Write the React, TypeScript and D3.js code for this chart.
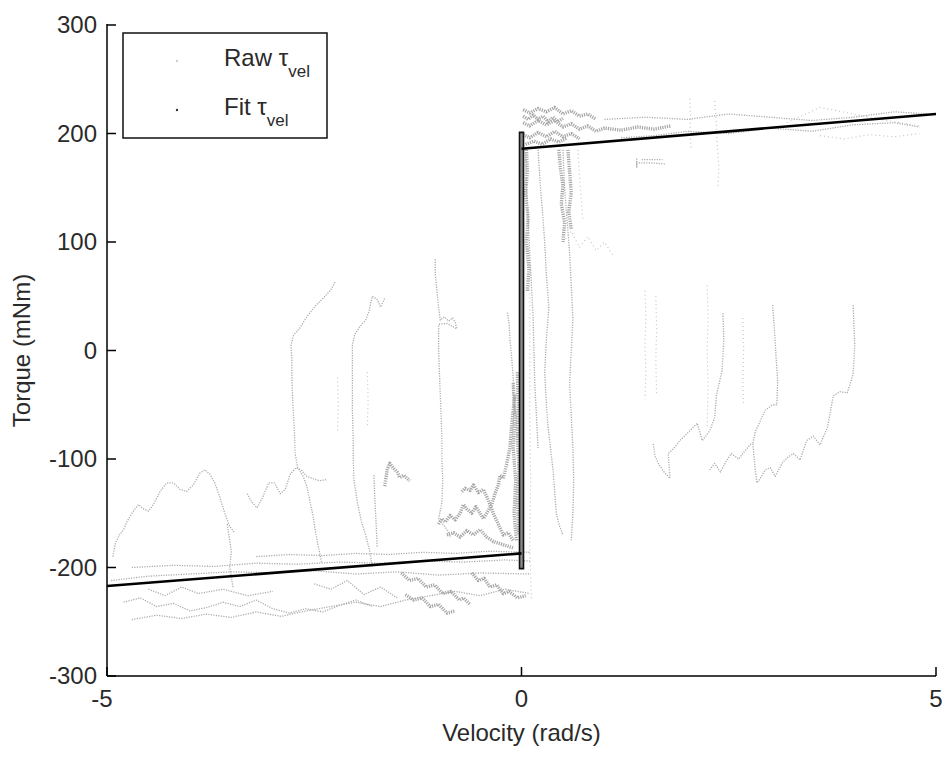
import React from "react";
import * as d3 from "d3";

type Pt = [number, number];

// Axis domains and tick labels
const xTicks = [-5, 0, 5];
const yTicks = [-300, -200, -100, 0, 100, 200, 300];

// Fitted friction model: negative branch, stiction step at zero, positive branch
const fitNeg: Pt[] = [[-5, -217], [0, -187]];
const fitPos: Pt[] = [[0, 186], [5, 218]];
const fitStep: Pt[] = [[-0.024, -201], [-0.024, 201], [0.024, 201], [0.024, -201]];

// Raw torque / velocity recordings (negative velocity side)
const rawLeftWave1: Pt[] = [[-4.93, -190], [-4.9, -178], [-4.85, -170], [-4.8, -165], [-4.76, -158], [-4.7, -150], [-4.62, -142], [-4.56, -146], [-4.5, -148], [-4.44, -142], [-4.36, -130], [-4.28, -122], [-4.2, -122], [-4.12, -128], [-4.04, -130], [-3.96, -124], [-3.88, -113], [-3.82, -110], [-3.76, -114], [-3.7, -122], [-3.64, -135], [-3.58, -150], [-3.52, -162], [-3.46, -168]];
const rawLeftWave2: Pt[] = [[-3.31, -132], [-3.25, -140], [-3.19, -145], [-3.12, -135], [-3.05, -122], [-2.98, -122], [-2.91, -132], [-2.85, -128], [-2.79, -114], [-2.72, -108], [-2.66, -110], [-2.59, -116], [-2.52, -118], [-2.44, -120], [-2.35, -119]];
const rawLeftRise1: Pt[] = [[-2.25, 63], [-2.3, 56], [-2.37, 50], [-2.45, 44], [-2.52, 38], [-2.6, 30], [-2.67, 21], [-2.75, 14], [-2.78, 5], [-2.77, -10], [-2.77, -25], [-2.76, -45], [-2.75, -60], [-2.74, -72], [-2.73, -95], [-2.7, -108], [-2.64, -115], [-2.59, -125], [-2.55, -140], [-2.52, -150], [-2.49, -165], [-2.45, -181], [-2.41, -196]];
const rawLeftRise2: Pt[] = [[-1.65, 48], [-1.7, 40], [-1.74, 47], [-1.8, 50], [-1.84, 36], [-1.88, 28], [-1.95, 22], [-2.01, 15], [-2.04, 5], [-2.04, -10], [-2.04, -30], [-2.04, -55], [-2.03, -80], [-2.03, -100], [-2.02, -120], [-1.98, -140], [-1.93, -158], [-1.88, -170], [-1.83, -185], [-1.8, -200]];
const rawLeftRise2b: Pt[] = [[-1.78, -115], [-1.77, -135], [-1.76, -150], [-1.75, -165], [-1.74, -182]];
const rawLeftBlob: Pt[] = [[-1.65, -125], [-1.62, -110], [-1.59, -104], [-1.55, -108], [-1.5, -112], [-1.47, -117], [-1.42, -115], [-1.35, -120]];
const rawLeftRise3: Pt[] = [[-1.04, 84], [-1.04, 70], [-1.02, 55], [-1.0, 40], [-0.98, 28], [-0.93, 31], [-0.88, 27], [-0.83, 30], [-0.8, 26], [-0.78, 20], [-0.9, 25], [-1.0, 24], [-1.0, 0], [-0.99, -20], [-0.98, -40], [-0.97, -60], [-0.96, -80], [-0.96, -100], [-0.95, -120], [-0.96, -140], [-1.0, -155], [-0.95, -160], [-0.9, -165], [-0.86, -172]];
const rawCenterLow1: Pt[] = [[-1.0, -160], [-0.96, -155], [-0.92, -158], [-0.86, -152], [-0.8, -156], [-0.74, -150], [-0.7, -142], [-0.66, -146], [-0.6, -150], [-0.55, -144], [-0.5, -150], [-0.46, -155], [-0.42, -150], [-0.36, -142], [-0.32, -132], [-0.28, -124], [-0.26, -115], [-0.22, -118], [-0.18, -105], [-0.14, -90], [-0.12, -70], [-0.1, -55], [-0.08, -40]];
const rawCenterLow2: Pt[] = [[-0.72, -130], [-0.68, -127], [-0.62, -129], [-0.58, -124], [-0.52, -131], [-0.46, -128], [-0.4, -138], [-0.34, -150], [-0.28, -160], [-0.22, -170], [-0.16, -168], [-0.1, -175]];
const rawCenterLow3: Pt[] = [[-0.9, -170], [-0.82, -168], [-0.74, -172], [-0.66, -166], [-0.58, -170], [-0.5, -165], [-0.42, -172], [-0.34, -176], [-0.26, -178], [-0.18, -180], [-0.1, -182]];
const rawNearZero1: Pt[] = [[-0.17, 35], [-0.15, 25], [-0.14, 10], [-0.12, -5], [-0.1, -25], [-0.1, -40], [-0.07, -60], [-0.05, -80]];
const rawNearZero2: Pt[] = [[-0.1, -30], [-0.08, -60], [-0.1, -90], [-0.07, -120], [-0.09, -150], [-0.06, -175]];
const rawNearZero3: Pt[] = [[-0.05, -20], [-0.04, -50], [-0.05, -80], [-0.03, -110], [-0.05, -140], [-0.03, -170]];
const rawLeftSparse1: Pt[] = [[-2.22, -25], [-2.21, -50], [-2.22, -75]];
const rawLeftSparse2: Pt[] = [[-1.86, -20], [-1.85, -45], [-1.86, -70]];

// Lower band along the negative branch
const rawBandL1: Pt[] = [[-3.2, -190], [-2.8, -188], [-2.4, -189], [-2.0, -187], [-1.6, -188], [-1.2, -186], [-0.8, -187], [-0.4, -185], [0.1, -186]];
const rawBandL2: Pt[] = [[-4.7, -200], [-4.2, -198], [-3.7, -199], [-3.2, -196], [-2.7, -197], [-2.2, -195], [-1.7, -196], [-1.2, -194], [-0.7, -195], [-0.2, -193], [0.1, -194]];
const rawBandL3: Pt[] = [[-4.95, -212], [-4.5, -208], [-4.0, -206], [-3.5, -204], [-3.0, -205], [-2.5, -203], [-2.0, -206], [-1.5, -204], [-1.0, -207], [-0.5, -205], [0.1, -206]];
const rawBandL4: Pt[] = [[-4.8, -232], [-4.6, -228], [-4.4, -236], [-4.2, -233], [-4.0, -240], [-3.8, -237], [-3.6, -232], [-3.4, -236], [-3.2, -230], [-3.0, -238], [-2.8, -242], [-2.6, -238], [-2.4, -241], [-2.2, -235], [-2.0, -230], [-1.8, -236]];
const rawBandL5: Pt[] = [[-4.7, -248], [-4.4, -244], [-4.1, -247], [-3.8, -243], [-3.5, -246], [-3.2, -241], [-2.9, -245], [-2.6, -240], [-2.3, -236], [-2.0, -232], [-1.7, -236], [-1.4, -230], [-1.1, -226], [-0.8, -222], [-0.5, -226], [-0.2, -220], [0.1, -224]];
const rawBandL6: Pt[] = [[-1.45, -205], [-1.35, -212], [-1.25, -210], [-1.15, -218], [-1.05, -216], [-0.95, -224], [-0.85, -222], [-0.75, -230], [-0.7, -228], [-0.62, -234]];
const rawBandL7: Pt[] = [[-1.4, -225], [-1.3, -230], [-1.2, -228], [-1.1, -236], [-1.0, -234], [-0.9, -242], [-0.8, -240]];
const rawBandL8: Pt[] = [[-0.6, -205], [-0.52, -212], [-0.45, -210], [-0.38, -218], [-0.3, -216], [-0.22, -224], [-0.15, -222], [-0.05, -228], [0.05, -226]];
const rawBandL9: Pt[] = [[-2.5, -215], [-2.3, -220], [-2.1, -212], [-1.9, -225], [-1.7, -218], [-1.5, -228]];
const rawBandL10: Pt[] = [[-4.5, -220], [-4.3, -226], [-4.1, -218], [-3.9, -224], [-3.6, -220], [-3.3, -226], [-3.0, -222]];
const rawBandL11: Pt[] = [[-3.55, -160], [-3.5, -185], [-3.52, -200], [-3.48, -218]];

// Positive velocity side: dense cluster just after breakaway
const rawCloud1: Pt[] = [[0.02, 222], [0.1, 219], [0.2, 223], [0.3, 220], [0.4, 224], [0.5, 218], [0.6, 221], [0.7, 216], [0.8, 218], [0.9, 213]];
const rawCloud2: Pt[] = [[0.02, 210], [0.1, 207], [0.2, 212], [0.3, 208], [0.4, 212], [0.5, 206], [0.6, 209], [0.7, 204], [0.8, 207], [0.9, 202], [1.0, 205], [1.2, 203], [1.4, 206], [1.6, 204], [1.8, 207]];
const rawCloud3: Pt[] = [[0.02, 199], [0.1, 196], [0.2, 201], [0.3, 197], [0.4, 202], [0.5, 197], [0.6, 200], [0.7, 195]];
const rawCloud4: Pt[] = [[0.05, 190], [0.15, 193], [0.25, 190], [0.35, 195], [0.45, 192], [0.55, 196]];
const rawCloud5: Pt[] = [[0.02, 216], [0.08, 213], [0.14, 217], [0.2, 213], [0.26, 216], [0.32, 211], [0.38, 215], [0.44, 211], [0.5, 214]];
const rawCloud6: Pt[] = [[0.06, 185], [0.07, 165], [0.05, 145], [0.08, 122], [0.06, 100], [0.09, 75], [0.07, 55]];
const rawCloud7: Pt[] = [[0.45, 185], [0.47, 168], [0.5, 152], [0.48, 135], [0.52, 118], [0.5, 100]];
const rawCloud8: Pt[] = [[0.56, 185], [0.58, 165], [0.6, 145], [0.57, 128], [0.6, 112]];

// Positive branch band
const rawBandR1: Pt[] = [[1.0, 213], [1.5, 215], [2.0, 213], [2.5, 218], [3.0, 215], [3.5, 212], [4.0, 215], [4.5, 220], [4.9, 218]];
const rawBandR2: Pt[] = [[1.2, 196], [1.6, 198], [2.0, 202], [2.5, 200], [3.0, 205], [3.5, 202], [4.0, 208], [4.5, 210], [4.8, 206]];
const rawBandR3: Pt[] = [[3.6, 198], [3.9, 195], [4.2, 199], [4.5, 197], [4.8, 200]];
const rawBandR4: Pt[] = [[3.2, 210], [3.6, 224], [4.0, 218], [4.4, 212], [4.8, 207]];
const rawBandR5: Pt[] = [[2.03, 232], [2.04, 215], [2.03, 200], [2.05, 185]];
const rawBandR6: Pt[] = [[2.33, 230], [2.35, 210], [2.36, 190], [2.38, 170], [2.37, 150]];
const rawBandR7: Pt[] = [[1.39, 177], [1.39, 169], [1.39, 173], [1.55, 173], [1.73, 172]];
const rawBandR8: Pt[] = [[1.45, 176], [1.7, 176]];

// Streaks falling from the breakaway cluster
const rawStreak1: Pt[] = [[0.05, 185], [0.06, 150], [0.08, 120], [0.1, 90], [0.12, 60], [0.14, 30], [0.15, 0], [0.16, -30], [0.18, -60], [0.2, -90]];
const rawStreak2: Pt[] = [[0.2, 185], [0.22, 160], [0.25, 130], [0.28, 100], [0.3, 70], [0.33, 40], [0.3, 10], [0.28, -20], [0.3, -50], [0.32, -70], [0.35, -90], [0.38, -110], [0.4, -130], [0.42, -150], [0.45, -160], [0.5, -170]];
const rawStreak3: Pt[] = [[0.5, 185], [0.52, 150], [0.55, 120], [0.58, 90], [0.6, 60], [0.62, 30], [0.6, 0], [0.58, -30], [0.6, -60], [0.62, -90], [0.63, -120], [0.62, -150], [0.6, -175]];
const rawStreak4: Pt[] = [[0.68, 185], [0.7, 160], [0.72, 140], [0.74, 120]];
const rawStreak5: Pt[] = [[0.1, 60], [0.1, 0], [0.1, -60], [0.11, -120], [0.1, -180], [0.12, -230]];
const rawStreak6: Pt[] = [[0.5, 100], [0.6, 110], [0.7, 95], [0.8, 105], [0.9, 92], [1.0, 100], [1.1, 88]];

// Positive velocity trajectories in the lower half
const rawRightF: Pt[] = [[1.59, -86], [1.61, -97], [1.65, -104], [1.72, -112], [1.79, -118], [1.77, -95], [1.84, -90], [1.91, -83], [2.03, -74], [2.12, -67], [2.18, -83], [2.27, -74], [2.33, -62], [2.35, -42], [2.42, -18], [2.44, 10], [2.43, 35]];
const rawRightG: Pt[] = [[3.03, 42], [3.05, 20], [3.07, -5], [3.09, -28], [3.08, -50], [3.03, -50], [2.94, -55], [2.88, -65], [2.82, -75], [2.79, -86]];
const rawRightG2: Pt[] = [[2.27, -110], [2.33, -104], [2.4, -112], [2.47, -102], [2.53, -95], [2.62, -100], [2.7, -92], [2.78, -85]];
const rawRightH: Pt[] = [[2.79, -86], [2.82, -110], [2.84, -122], [2.88, -118], [2.94, -110], [3.0, -108], [3.06, -116], [3.15, -103], [3.22, -98], [3.28, -95], [3.36, -101], [3.44, -83], [3.52, -79], [3.6, -87], [3.69, -71], [3.76, -42], [3.84, -38], [3.93, -39], [4.0, -22], [4.02, 5], [4.0, 42]];
const rawRightL1: Pt[] = [[1.49, 55], [1.5, 30], [1.49, 5], [1.5, -20], [1.49, -45]];
const rawRightL2: Pt[] = [[1.62, 50], [1.63, 20], [1.62, -10], [1.63, -40]];
const rawRightL3: Pt[] = [[2.24, 60], [2.25, 30], [2.24, 0], [2.25, -30], [2.24, -70]];
const rawRightL4: Pt[] = [[2.67, 30], [2.68, 0], [2.67, -30], [2.68, -50]];

const sparseTraces: Pt[][] = [
  rawLeftSparse1, rawLeftSparse2, rawRightL1, rawRightL2, rawRightL3, rawRightL4,
  rawStreak4, rawStreak5, rawStreak6, rawBandR3, rawBandR4, rawBandR5, rawBandR6,
];
const traceSet: Pt[][] = [
  rawLeftWave1, rawLeftWave2, rawLeftRise1, rawLeftRise2, rawLeftRise2b, rawLeftRise3,
  rawNearZero1, rawRightF, rawRightG, rawRightG2, rawRightH, rawBandR7, rawBandR8,
  rawBandL1, rawBandL2, rawBandL3, rawBandL4, rawBandL5, rawBandL9, rawBandL10, rawBandL11,
  rawBandR1, rawBandR2, rawStreak1, rawStreak2, rawStreak3,
];
const denseTraces: Pt[][] = [
  rawLeftBlob, rawCenterLow1, rawCenterLow2, rawCenterLow3, rawNearZero2, rawNearZero3,
  rawBandL6, rawBandL7, rawBandL8, rawCloud1, rawCloud2, rawCloud3, rawCloud4, rawCloud5,
  rawCloud6, rawCloud7, rawCloud8,
];

const W = 946;
const H = 757;
const left = 107;
const right = 936;
const top = 25;
const bottom = 676;
const FONT = "'Liberation Sans', Arial, Helvetica, sans-serif";

export default function App() {
  const x = d3.scaleLinear().domain([-5, 5]).range([left, right]);
  const y = d3.scaleLinear().domain([-300, 300]).range([bottom, top]);
  const line = d3.line<Pt>().x((d) => x(d[0])).y((d) => y(d[1]));
  const tickLen = 9;

  return (
    <svg
      width={W}
      height={H}
      viewBox={`0 0 ${W} ${H}`}
      style={{ position: "absolute", left: 0, top: 0, background: "#fff" }}
      fontFamily={FONT}
    >
      <rect x={0} y={0} width={W} height={H} fill="#fff" />

      {/* raw measurements */}
      <g fill="none" strokeLinejoin="round">
        {sparseTraces.map((t, i) => (
          <path key={"s" + i} d={line(t) || ""} stroke="#c4c4c4" strokeWidth={1.2} strokeDasharray="1 3" />
        ))}
        {traceSet.map((t, i) => (
          <path key={"t" + i} d={line(t) || ""} stroke="#ababab" strokeWidth={1.3} strokeDasharray="1.2 1.3" />
        ))}
        {denseTraces.map((t, i) => (
          <path key={"d" + i} d={line(t) || ""} stroke="#a6a6a6" strokeWidth={3.4} strokeDasharray="1.2 1.1" />
        ))}
      </g>

      {/* fitted model */}
      <path d={(line(fitStep) || "") + "Z"} fill="#8a8a8a" stroke="#111" strokeWidth={1.6} />
      <path d={line(fitNeg) || ""} fill="none" stroke="#000" strokeWidth={2.6} />
      <path d={line(fitPos) || ""} fill="none" stroke="#000" strokeWidth={2.6} />

      {/* axes */}
      <g stroke="#000" strokeWidth={1.5}>
        <line x1={left} x2={left} y1={top - 1} y2={bottom} />
        <line x1={left} x2={right} y1={bottom} y2={bottom} />
        {yTicks.map((t) => (
          <line key={"yt" + t} x1={left} x2={left + tickLen} y1={y(t)} y2={y(t)} />
        ))}
        {xTicks.map((t) => (
          <line key={"xt" + t} x1={x(t)} x2={x(t)} y1={bottom} y2={bottom - tickLen} />
        ))}
      </g>
      <g fontSize={24} fill="#2a2a2a">
        {yTicks.map((t) => (
          <text key={"yl" + t} x={left - 10} y={y(t)} dy="0.35em" textAnchor="end">
            {t}
          </text>
        ))}
        {xTicks.map((t) => (
          <text key={"xl" + t} x={x(t) - (t < 0 ? 5 : 0)} y={707} textAnchor="middle">
            {t}
          </text>
        ))}
        <text x={(left + right) / 2} y={741} textAnchor="middle">
          Velocity (rad/s)
        </text>
        <text transform={`translate(30, ${(top + bottom) / 2}) rotate(-90)`} textAnchor="middle">
          Torque (mNm)
        </text>
      </g>

      {/* legend */}
      <g>
        <rect x={123} y={33} width={204} height={105} fill="#fff" stroke="#111" strokeWidth={1.5} />
        <circle cx={177} cy={61} r={1.2} fill="#cfcfcf" />
        <circle cx={177} cy={110} r={1.2} fill="#333" />
        <text x={224} y={66} fontSize={24} fill="#2a2a2a">
          Raw τ<tspan fontSize={17} dy={11}>vel</tspan>
        </text>
        <text x={224} y={115} fontSize={24} fill="#2a2a2a">
          Fit τ<tspan fontSize={17} dy={11}>vel</tspan>
        </text>
      </g>
    </svg>
  );
}
